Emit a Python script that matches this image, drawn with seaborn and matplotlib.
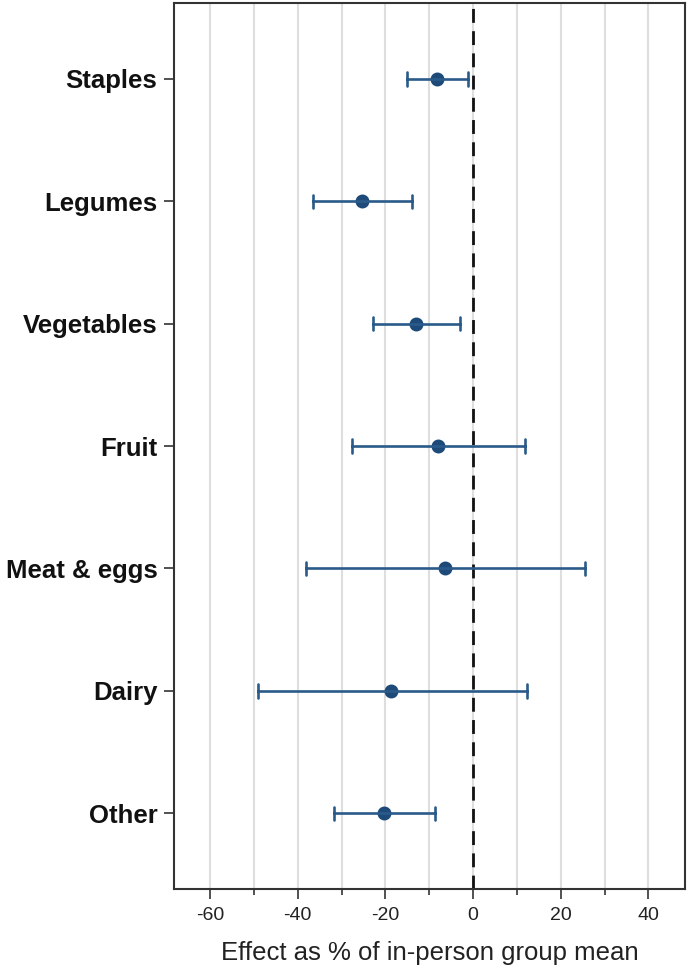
import seaborn as sns
import matplotlib.pyplot as plt
from matplotlib.ticker import MultipleLocator
import pandas as pd

# Effect estimates with 95% CI (% of in-person group mean)
categories = ['Staples', 'Legumes', 'Vegetables', 'Fruit', 'Meat & eggs', 'Dairy', 'Other']
estimate = [-8.2, -25.3, -13.0, -8.0, -6.5, -18.7, -20.3]
ci_low = [-15.0, -36.5, -22.8, -27.6, -38.2, -49.1, -31.7]
ci_high = [-1.2, -13.9, -3.0, 11.9, 25.5, 12.3, -8.7]

# long table: lower, estimate, upper per category -> median is estimate, min/max is CI
rows = []
for c, lo, est, hi in zip(categories, ci_low, estimate, ci_high):
    for v in (lo, est, hi):
        rows.append({'Category': c, 'Effect': v})
df = pd.DataFrame(rows)

sns.set_theme(style="white")
plt.rcParams['font.family'] = ['Liberation Sans', 'DejaVu Sans']
plt.rcParams['axes.unicode_minus'] = False

fig = plt.figure(figsize=(6.88, 9.75), dpi=100)
ax = fig.add_axes([0.253, 0.088, 0.743, 0.909])

navy = '#1d4a78'
ax.axvline(0, color='#111111', lw=2, ls=(0, (5, 3)), zorder=2)

sns.pointplot(data=df, x='Effect', y='Category', order=categories,
              estimator='median', errorbar=lambda v: (v.min(), v.max()),
              linestyle='none', color=navy, capsize=0.11, markersize=8,
              err_kws={'linewidth': 1.9, 'color': '#2a5a8a'}, ax=ax, zorder=3)

ax.set_xlim(-68.2, 48.4)
ax.set_ylim(6.62, -0.62)
ax.xaxis.set_major_locator(MultipleLocator(20))
ax.set_xticks([-50, -30, -10, 10, 30], minor=True)
ax.grid(axis='x', which='both', color='#dedede', lw=1.5, zorder=0)
ax.set_axisbelow(True)

ax.tick_params(axis='x', which='major', bottom=True, length=7, width=1.2,
               color='#333333', labelsize=14, labelcolor='#222222', pad=6)
ax.tick_params(axis='x', which='minor', bottom=True, length=4, width=1.2, color='#333333')
ax.tick_params(axis='y', left=True, length=7, width=1.2, color='#333333', pad=5)
for lab in ax.get_yticklabels():
    lab.set_fontsize(18.5)
    lab.set_fontweight('bold')
    lab.set_color('#111111')

for s in ax.spines.values():
    s.set_visible(True)
    s.set_linewidth(1.5)
    s.set_color('#333333')

ax.set_ylabel('')
ax.set_xlabel('Effect as % of in-person group mean', fontsize=18.5, color='#222222', labelpad=12)

plt.savefig('out.png', dpi=100)
